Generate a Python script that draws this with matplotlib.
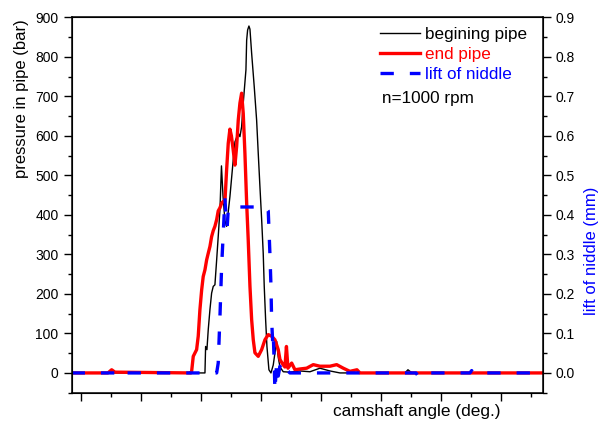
import matplotlib
matplotlib.use("Agg")
import matplotlib.pyplot as plt
from matplotlib.ticker import MultipleLocator, FormatStrFormatter, NullFormatter

plt.rcParams["font.family"] = ["Liberation Sans", "DejaVu Sans"]

# ---------------------------------------------------------------------------
# Data (camshaft angle in arbitrary deg units)
# ---------------------------------------------------------------------------
angle_begin = [-1.5, 20.72, 20.83, 21.05, 21.27, 21.55, 21.83, 22.1, 22.38,
               22.67, 22.93, 23.22, 23.47, 23.72, 24.05, 24.33, 24.88, 25.43,
               25.72, 26.27, 26.55, 26.83, 27.1, 27.55, 27.67, 27.83, 28.05,
               28.22, 28.5, 28.93, 29.33, 29.6, 29.88, 30.17, 30.43, 30.6,
               30.83, 31.05, 31.38, 31.72, 32.1, 32.38, 32.67, 32.93, 33.22,
               33.77, 34.88, 36.55, 38.22, 39.88, 41.55, 43.22, 54.05, 54.55,
               55.22, 56.55, 77.0]
pressure_begin = [0, 0, 67, 59, 110, 160, 202, 219, 223,
                  286, 345, 413, 524, 450, 385, 371, 446, 539,
                  585, 607, 598, 623, 683, 767, 842, 868, 878,
                  870, 809, 725, 640, 556, 472, 388, 303, 219,
                  135, 67, 8, 0, 20, 50, 80, 40, 15,
                  3, 2, 5, 3, 12, 5, 0, 0, 8,
                  0, 0, 0]

angle_end = [-1.5, 4.55, 5.17, 5.72, 18.38, 18.5, 18.77, 19.33, 19.6, 19.88,
             20.17, 20.43, 20.72, 21.0, 21.27, 21.55, 21.83, 22.1, 22.38,
             22.67, 22.93, 23.22, 23.5, 23.77, 24.05, 24.33, 24.6, 24.88,
             25.13, 25.43, 25.72, 26.0, 26.27, 26.55, 26.83, 27.1, 27.38,
             27.67, 27.93, 28.22, 28.5, 28.77, 29.05, 29.6, 30.17, 30.72,
             31.27, 31.83, 32.38, 32.93, 33.22, 33.77, 34.05, 34.3, 34.55,
             35.17, 35.72, 36.55, 37.67, 38.77, 39.88, 41.55, 42.67, 43.77,
             44.88, 46.05, 46.55, 77.0]
pressure_end = [0, 0, 8, 2, 0, 4, 42, 59, 93, 160,
                210, 244, 261, 286, 303, 320, 345, 360, 371,
                388, 410, 418, 430, 434, 434, 514, 581, 617,
                600, 564, 526, 573, 640, 683, 708, 657, 556,
                430, 337, 219, 135, 84, 51, 42, 59, 84,
                97, 93, 84, 59, 34, 20, 15, 67, 12,
                25, 8, 10, 12, 21, 17, 17, 21, 12,
                4, 8, 0, 0]

angle_lift = [-1.5, 5.72, 6.27, 6.72, 22.67, 22.93, 23.22, 23.5, 23.77,
              24.05, 24.22, 24.43, 24.6, 25.17, 30.72, 31.27, 31.55, 31.72,
              31.83, 32.0, 32.1, 32.27, 32.38, 32.67, 32.93, 33.22, 33.77,
              34.33, 34.88, 55.88, 56.27, 56.72, 64.88, 65.17, 65.38, 77.0]
lift = [0, 0, 0.008, 0, 0, 0.025, 0.143, 0.27, 0.354,
        0.442, 0.396, 0.37, 0.413, 0.42, 0.42, 0.41, 0.30, 0.22,
        0.135, 0.08, 0.10, 0.02, -0.045, 0.025, -0.008, 0.017, -0.004,
        0.008, 0, 0, -0.008, 0, 0, 0.006, 0, 0]

# ---------------------------------------------------------------------------
# Plot
# ---------------------------------------------------------------------------
fig = plt.figure(figsize=(6.07, 4.28), dpi=100)
ax = fig.add_axes([0.118, 0.0825, 0.776, 0.877])

l1, = ax.plot(angle_begin, pressure_begin, color="black", lw=1.0)
l2, = ax.plot(angle_end, pressure_end, color="red", lw=2.4)

ax.set_xlim(-1.5, 77)
ax.set_ylim(-50, 900)
ax.xaxis.set_major_locator(MultipleLocator(10))
ax.xaxis.set_minor_locator(MultipleLocator(5))
ax.xaxis.set_major_formatter(NullFormatter())
ax.yaxis.set_major_locator(MultipleLocator(100))
ax.yaxis.set_minor_locator(MultipleLocator(50))
ax.tick_params(which="both", direction="out", top=False, right=False,
               labelsize=10, width=1.0, pad=4)
ax.tick_params(which="major", length=5.5)
ax.tick_params(which="minor", length=3)
for s in ax.spines.values():
    s.set_linewidth(1.1)

ax.set_xlabel("camshaft angle (deg.)", fontsize=12.4, ha="center", va="center")
ax.xaxis.set_label_coords(0.733, -0.051)
ax.set_ylabel("pressure in pipe (bar)", fontsize=12, ha="center", va="center")
ax.yaxis.set_label_coords(-0.1055, 0.784)

ax2 = ax.twinx()
l3, = ax2.plot(angle_lift, lift, color="blue", lw=2.4, ls=(0, (4, 4.8)))
ax2.set_ylim(-0.05, 0.9)
ax2.yaxis.set_major_locator(MultipleLocator(0.1))
ax2.yaxis.set_minor_locator(MultipleLocator(0.05))
ax2.yaxis.set_major_formatter(FormatStrFormatter("%.1f"))
ax2.tick_params(which="both", direction="out", labelsize=10, width=1.0, pad=3.5)
ax2.tick_params(which="major", length=5.5)
ax2.tick_params(which="minor", length=3)
ax2.set_ylabel("lift of niddle (mm)", fontsize=12, color="blue",
               ha="center", va="center")
ax2.yaxis.set_label_coords(1.1047, 0.377)

leg = ax2.legend([l1, l2, l3], ["begining pipe", "end pipe", "lift of niddle"],
                 loc="upper left", bbox_to_anchor=(0.6546, 0.9755),
                 frameon=False, fontsize=12.3, borderpad=0, borderaxespad=0,
                 handlelength=2.35, handletextpad=0.3, labelspacing=0.3)
for txt, c in zip(leg.get_texts(), ["black", "red", "blue"]):
    txt.set_color(c)

ax2.text(0.658, 0.785, "n=1000 rpm", transform=ax2.transAxes,
         fontsize=12.3, ha="left", va="center")

fig.savefig("out.png", dpi=100)
